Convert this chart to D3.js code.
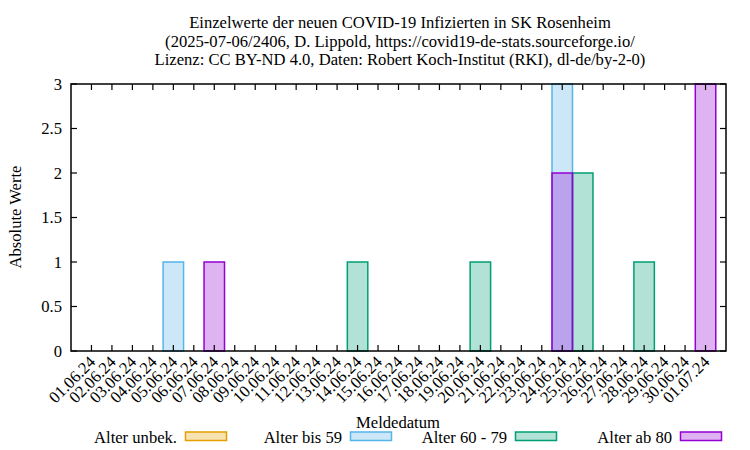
<!DOCTYPE html>
<html><head><meta charset="utf-8">
<script src="https://cdn.jsdelivr.net/npm/d3@7"></script>
<style>body{margin:0;background:#fff}text{font-family:"Liberation Serif","Times New Roman",serif;fill:#000}</style>
</head><body><svg id="c" width="750" height="450"></svg>
<script>
const dates = ["01.06.24","02.06.24","03.06.24","04.06.24","05.06.24","06.06.24","07.06.24","08.06.24","09.06.24","10.06.24","11.06.24","12.06.24","13.06.24","14.06.24","15.06.24","16.06.24","17.06.24","18.06.24","19.06.24","20.06.24","21.06.24","22.06.24","23.06.24","24.06.24","25.06.24","26.06.24","27.06.24","28.06.24","29.06.24","30.06.24","01.07.24"];
const seriesNames = ["Alter unbek.","Alter bis 59","Alter 60 - 79","Alter ab 80"];
const seriesColors = ["#e69f00","#56b4e9","#009e73","#9400d3"];
const valUnbek = [0,0,0,0,0,0,0,0,0,0,0,0,0,0,0,0,0,0,0,0,0,0,0,0,0,0,0,0,0,0,0];
const valBis59 = [0,0,0,0,1,0,0,0,0,0,0,0,0,0,0,0,0,0,0,0,0,0,0,3,0,0,0,0,0,0,0];
const val6079  = [0,0,0,0,0,0,0,0,0,0,0,0,0,1,0,0,0,0,0,1,0,0,0,0,2,0,0,1,0,0,0];
const valAb80  = [0,0,0,0,0,0,1,0,0,0,0,0,0,0,0,0,0,0,0,0,0,0,0,2,0,0,0,0,0,0,3];
const yTicks = [0,0.5,1,1.5,2,2.5,3];
const titleLines = ["Einzelwerte der neuen COVID-19 Infizierten in SK Rosenheim","(2025-07-06/2406, D. Lippold, https://covid19-de-stats.sourceforge.io/","Lizenz: CC BY-ND 4.0, Daten: Robert Koch-Institut (RKI), dl-de/by-2-0)"];

const series = [valUnbek,valBis59,val6079,valAb80];
const svg = d3.select("#c");
const L=71,R=726,T=84,B=351;
const x = d3.scaleLinear().domain([-1,dates.length]).range([L,R]);
const y = d3.scaleLinear().domain([0,3]).range([B,T]);
const bw = x(1)-x(0);

// title
svg.append("g").selectAll("text").data(titleLines).join("text")
  .attr("x",400).attr("y",(d,i)=>28+i*18.5).attr("text-anchor","middle")
  .style("font-size","16.6px").text(d=>d);

// bars
series.forEach((vals,si)=>{
  svg.append("g").selectAll("rect").data(vals.map((v,i)=>({v,i})).filter(d=>d.v>0)).join("rect")
    .attr("x",d=>x(d.i)-bw/2).attr("width",bw)
    .attr("y",d=>y(d.v)).attr("height",d=>y(0)-y(d.v))
    .attr("fill",seriesColors[si]).attr("fill-opacity",0.3)
    .attr("stroke",seriesColors[si]).attr("stroke-width",1.5);
});

// ticks
const tg = svg.append("g").attr("stroke","#000").attr("stroke-width",1.2);
dates.forEach((d,i)=>{
  tg.append("line").attr("x1",x(i)).attr("x2",x(i)).attr("y1",B).attr("y2",B-6);
  tg.append("line").attr("x1",x(i)).attr("x2",x(i)).attr("y1",T).attr("y2",T+6);
});
yTicks.forEach(v=>{
  tg.append("line").attr("x1",L).attr("x2",L+6).attr("y1",y(v)).attr("y2",y(v));
  tg.append("line").attr("x1",R).attr("x2",R-6).attr("y1",y(v)).attr("y2",y(v));
});
// frame
svg.append("rect").attr("x",L).attr("y",T).attr("width",R-L).attr("height",B-T)
  .attr("fill","none").attr("stroke","#000").attr("stroke-width",1.5);

// y tick labels
svg.append("g").selectAll("text").data(yTicks).join("text")
  .attr("x",62).attr("y",d=>y(d)+5.5).attr("text-anchor","end")
  .style("font-size","16.6px").text(d=>d);

// x tick labels
svg.append("g").selectAll("text").data(dates).join("text")
  .attr("transform",(d,i)=>`translate(${x(i)+5},${363}) rotate(-45)`)
  .attr("text-anchor","end").style("font-size","16.6px").text(d=>d);

// axis titles
svg.append("text").attr("transform","translate(21,217) rotate(-90)").attr("text-anchor","middle")
  .style("font-size","16.6px").text("Absolute Werte");
svg.append("text").attr("x",398).attr("y",428).attr("text-anchor","middle")
  .style("font-size","16.6px").text("Meldedatum");

// legend
const legX = [177,342,507,672];
seriesNames.forEach((n,i)=>{
  svg.append("text").attr("x",legX[i]).attr("y",443).attr("text-anchor","end")
    .style("font-size","16.6px").text(n);
  svg.append("rect").attr("x",legX[i]+8.5).attr("y",432).attr("width",41).attr("height",8.5)
    .attr("fill",seriesColors[i]).attr("fill-opacity",0.3)
    .attr("stroke",seriesColors[i]).attr("stroke-width",1.5);
});
</script></body></html>
